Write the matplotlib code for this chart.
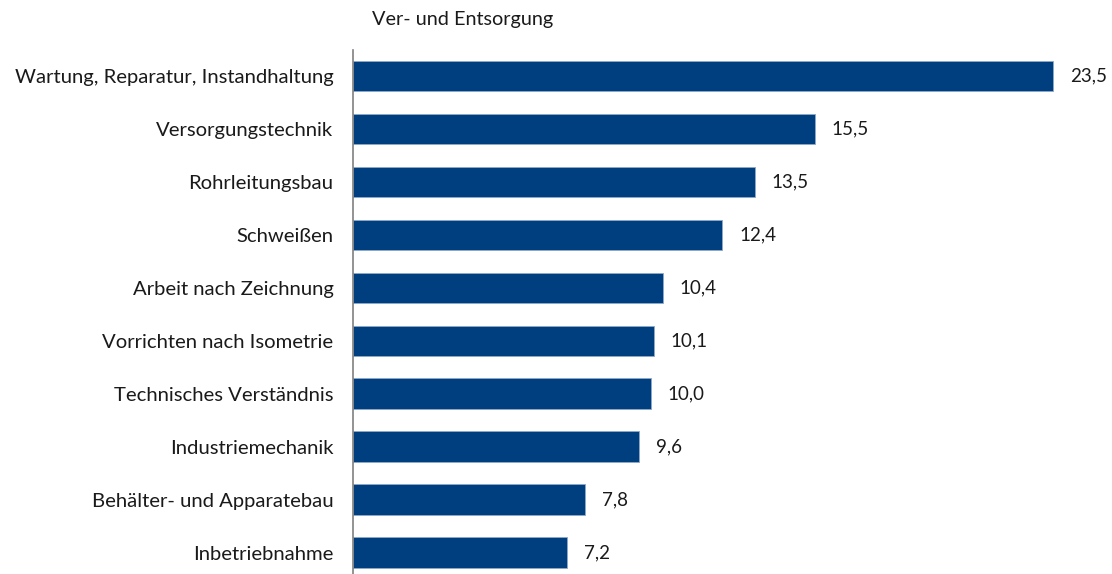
import matplotlib
matplotlib.use("Agg")
import matplotlib.pyplot as plt

categories = [
    "Wartung, Reparatur, Instandhaltung",
    "Versorgungstechnik",
    "Rohrleitungsbau",
    "Schweißen",
    "Arbeit nach Zeichnung",
    "Vorrichten nach Isometrie",
    "Technisches Verständnis",
    "Industriemechanik",
    "Behälter- und Apparatebau",
    "Inbetriebnahme",
]
values = [23.5, 15.5, 13.5, 12.4, 10.4, 10.1, 10.0, 9.6, 7.8, 7.2]
title = "Ver- und Entsorgung"

plt.rcParams['font.family'] = ['Lato', 'DejaVu Sans']

fig = plt.figure(figsize=(11.12, 5.74), dpi=100)
ax = fig.add_axes([353/1112, 0, (1100-353)/1112, (574-50)/574])

color = "#003f7f"
y = list(range(len(categories)))
ax.barh(y, values, height=0.58, color=color, edgecolor="#8fa8c8", linewidth=0.6)
ax.set_xlim(0, 747/29.79)
ax.set_ylim(9.4, -0.49)
ax.set_yticks(y)
ax.set_yticklabels(categories, fontsize=14.6, color="#1a1a1a")
ax.tick_params(axis='y', length=0, pad=14)
ax.set_xticks([])
for s in ["top", "right", "bottom"]:
    ax.spines[s].set_visible(False)
ax.spines["left"].set_color("#808080")
ax.spines["left"].set_linewidth(1.2)

for yi, v in zip(y, values):
    ax.annotate(f"{v:.1f}".replace(".", ","), xy=(v, yi), xytext=(12, 0),
                textcoords="offset points", va="center", ha="left",
                fontsize=13.5, color="#1a1a1a")

fig.text(372/1112, 1 - 20/574, title, fontsize=14.3, color="#1a1a1a",
         ha="left", va="center")

fig.savefig("out.png", dpi=100)
